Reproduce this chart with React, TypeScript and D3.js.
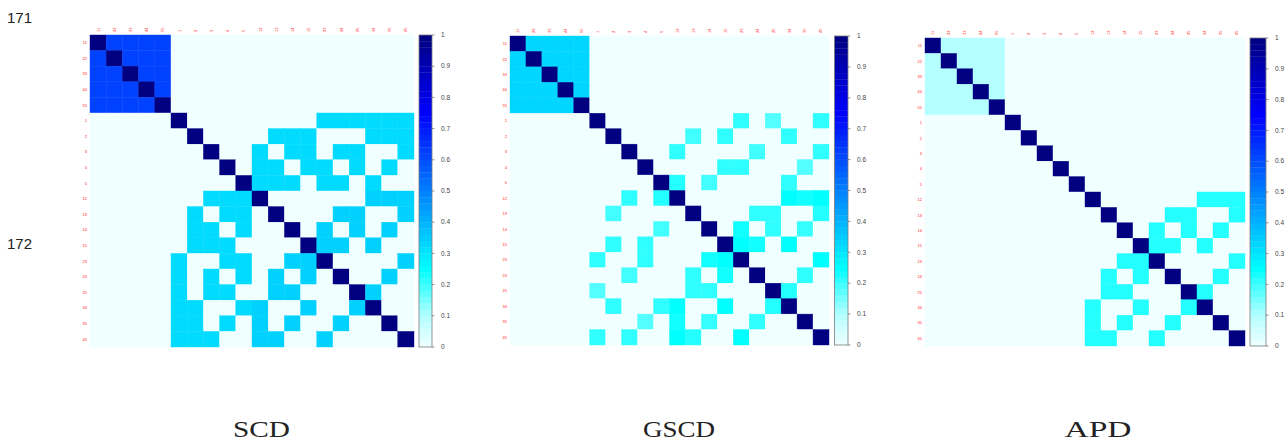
import * as d3 from "d3";

// row / column order of every matrix
const labels = ["11", "22", "33", "44", "55", "1", "2", "3", "4", "5", "12", "13", "14", "15", "23", "24", "25", "34", "35", "45"];

// colour ramp
const colorStops = [0, 0.1, 0.25, 0.75, 1];
const colorRange = ["#f0ffff", "#b4ffff", "#00ffff", "#0000ff", "#000080"];
const barTicks = [0, 0.1, 0.2, 0.3, 0.4, 0.5, 0.6, 0.7, 0.8, 0.9, 1];
const diagonalValue = 1;

type Cell = [string, string, number];

// upper-triangle entries (matrices are symmetric), everything else is 0
const scdCells: Cell[] = [
  ["11", "22", 0.62], ["11", "33", 0.62], ["11", "44", 0.62], ["11", "55", 0.62],
  ["22", "33", 0.62], ["22", "44", 0.62], ["22", "55", 0.62],
  ["33", "44", 0.62], ["33", "55", 0.62], ["44", "55", 0.62],
  ["1", "23", 0.32], ["1", "24", 0.32], ["1", "25", 0.32], ["1", "34", 0.32], ["1", "35", 0.32], ["1", "45", 0.32],
  ["2", "13", 0.32], ["2", "14", 0.32], ["2", "15", 0.32], ["2", "34", 0.32], ["2", "35", 0.32], ["2", "45", 0.32],
  ["3", "12", 0.32], ["3", "14", 0.32], ["3", "15", 0.32], ["3", "24", 0.32], ["3", "25", 0.32], ["3", "45", 0.32],
  ["4", "12", 0.32], ["4", "13", 0.32], ["4", "15", 0.32], ["4", "23", 0.32], ["4", "25", 0.32], ["4", "35", 0.32],
  ["5", "12", 0.32], ["5", "13", 0.32], ["5", "14", 0.32], ["5", "23", 0.32], ["5", "24", 0.32], ["5", "34", 0.32],
  ["12", "34", 0.34], ["12", "35", 0.34], ["12", "45", 0.34],
  ["13", "24", 0.34], ["13", "25", 0.34], ["13", "45", 0.34],
  ["14", "23", 0.34], ["14", "25", 0.34], ["14", "35", 0.34],
  ["15", "23", 0.34], ["15", "24", 0.34], ["15", "34", 0.34],
  ["23", "45", 0.34], ["24", "35", 0.34], ["25", "34", 0.34],
];

const gscdCells: Cell[] = [
  ["11", "22", 0.33], ["11", "33", 0.33], ["11", "44", 0.33], ["11", "55", 0.33],
  ["22", "33", 0.33], ["22", "44", 0.33], ["22", "55", 0.33],
  ["33", "44", 0.33], ["33", "55", 0.33], ["44", "55", 0.33],
  ["1", "23", 0.21], ["1", "25", 0.18], ["1", "45", 0.21],
  ["2", "13", 0.195], ["2", "15", 0.21], ["2", "34", 0.21],
  ["3", "12", 0.21], ["3", "24", 0.195], ["3", "45", 0.21],
  ["4", "15", 0.21], ["4", "23", 0.21], ["4", "35", 0.18],
  ["5", "12", 0.22], ["5", "14", 0.195], ["5", "34", 0.21],
  ["12", "34", 0.25], ["12", "35", 0.235], ["12", "45", 0.25],
  ["13", "24", 0.21], ["13", "25", 0.21], ["13", "45", 0.22],
  ["14", "23", 0.235], ["14", "25", 0.21], ["14", "35", 0.205],
  ["15", "23", 0.25], ["15", "24", 0.235], ["15", "34", 0.25],
  ["23", "45", 0.25], ["24", "35", 0.21], ["25", "34", 0.22],
];

const apdCells: Cell[] = [
  ["11", "22", 0.1], ["11", "33", 0.1], ["11", "44", 0.1], ["11", "55", 0.1],
  ["22", "33", 0.1], ["22", "44", 0.1], ["22", "55", 0.1],
  ["33", "44", 0.1], ["33", "55", 0.1], ["44", "55", 0.1],
  ["12", "34", 0.22], ["12", "35", 0.22], ["12", "45", 0.22],
  ["13", "24", 0.22], ["13", "25", 0.22], ["13", "45", 0.22],
  ["14", "23", 0.22], ["14", "25", 0.22], ["14", "35", 0.22],
  ["15", "23", 0.22], ["15", "24", 0.22], ["15", "34", 0.22],
  ["23", "45", 0.22], ["24", "35", 0.22], ["25", "34", 0.22],
];

const color = d3.scaleLinear<string>().domain(colorStops).range(colorRange).clamp(true);

type Box = { x0: number; x1: number; y0: number; y1: number; barX0: number; barX1: number; titleX: number; titleW: number };

function Panel({ title, cells, box }: { title: string; cells: Cell[]; box: Box }) {
  const lookup = new Map<string, number>();
  cells.forEach(([r, c, v]) => {
    lookup.set(r + "|" + c, v);
    lookup.set(c + "|" + r, v);
  });
  const x = d3.scaleBand().domain(labels).range([box.x0, box.x1]);
  const y = d3.scaleBand().domain(labels).range([box.y0, box.y1]);
  const yBar = d3.scaleLinear().domain([0, 1]).range([box.y1, box.y0]);
  const bands = d3.range(50).map((i) => i / 50);
  const clipId = "clip-" + title;

  return (
    <g>
      <clipPath id={clipId}>
        <rect x={box.x0 - 40} y={0} width={box.barX1 - box.x0 + 80} height={349.5} />
      </clipPath>
      <g clipPath={`url(#${clipId})`}>
        {labels.map((r) =>
          labels.map((c) => {
            const v = r === c ? diagonalValue : lookup.get(r + "|" + c) ?? 0;
            return (
              <rect
                key={r + "-" + c}
                x={x(c)}
                y={y(r)}
                width={x.bandwidth()}
                height={y.bandwidth()}
                fill={color(v)}
                stroke={color(v)}
                strokeWidth={0.4}
              />
            );
          })
        )}
        {labels.map((l) => (
          <text
            key={"r" + l}
            x={box.x0 - 3}
            y={(y(l) ?? 0) + y.bandwidth() / 2}
            dy="0.35em"
            textAnchor="end"
            fontSize={4}
            fill="#ff2020"
            fontFamily="Liberation Sans, Arial, sans-serif"
          >
            {l}
          </text>
        ))}
        {labels.map((l) => {
          const cx = (x(l) ?? 0) + x.bandwidth() / 2;
          return (
            <text
              key={"c" + l}
              transform={`translate(${cx},${box.y0 - 3}) rotate(-90)`}
              dy="0.35em"
              textAnchor="start"
              fontSize={4}
              fill="#ff2020"
              fontFamily="Liberation Sans, Arial, sans-serif"
            >
              {l}
            </text>
          );
        })}
        {bands.map((b) => (
          <rect
            key={"b" + b}
            x={box.barX0}
            y={yBar(b + 1 / 50)}
            width={box.barX1 - box.barX0}
            height={yBar(b) - yBar(b + 1 / 50) + 0.3}
            fill={color(b + 1 / 100)}
          />
        ))}
        <rect
          x={box.barX0}
          y={box.y0}
          width={box.barX1 - box.barX0}
          height={box.y1 - box.y0}
          fill="none"
          stroke="#7a7a7a"
          strokeWidth={0.8}
        />
        {barTicks.map((t) => (
          <g key={"t" + t}>
            <line x1={box.barX1} x2={box.barX1 + 2.5} y1={yBar(t)} y2={yBar(t)} stroke="#666" strokeWidth={0.7} />
            <text
              x={box.barX1 + 9}
              y={yBar(t)}
              dy="0.35em"
              fontSize={6.5}
              fill="#444"
              fontFamily="Liberation Sans, Arial, sans-serif"
            >
              {String(+t.toFixed(1))}
            </text>
          </g>
        ))}
      </g>
      <text
        x={box.titleX - box.titleW / 2}
        y={437}
        fontSize={23}
        textLength={box.titleW}
        lengthAdjust="spacingAndGlyphs"
        fill="#222"
        fontFamily="Liberation Serif, Times New Roman, serif"
      >
        {title}
      </text>
    </g>
  );
}

const panels: { title: string; cells: Cell[]; box: Box }[] = [
  { title: "SCD", cells: scdCells, box: { x0: 90, x1: 414, y0: 35, y1: 347, barX0: 419, barX1: 432, titleX: 261.5, titleW: 57 } },
  { title: "GSCD", cells: gscdCells, box: { x0: 510, x1: 829, y0: 36, y1: 345, barX0: 834.5, barX1: 848, titleX: 679, titleW: 72 } },
  { title: "APD", cells: apdCells, box: { x0: 925, x1: 1245, y0: 38, y1: 346, barX0: 1250, barX1: 1266, titleX: 1098, titleW: 67 } },
];

export default function App() {
  return (
    <div style={{ position: "absolute", left: 0, top: 0 }}>
      <svg width={1286} height={444} style={{ display: "block", background: "#fff" }}>
        <text x={7} y={23} fontSize={15} fill="#222" fontFamily="Liberation Sans, Arial, sans-serif">
          171
        </text>
        <text x={7} y={249} fontSize={15} fill="#222" fontFamily="Liberation Sans, Arial, sans-serif">
          172
        </text>
        {panels.map((p) => (
          <Panel key={p.title} title={p.title} cells={p.cells} box={p.box} />
        ))}
      </svg>
    </div>
  );
}
